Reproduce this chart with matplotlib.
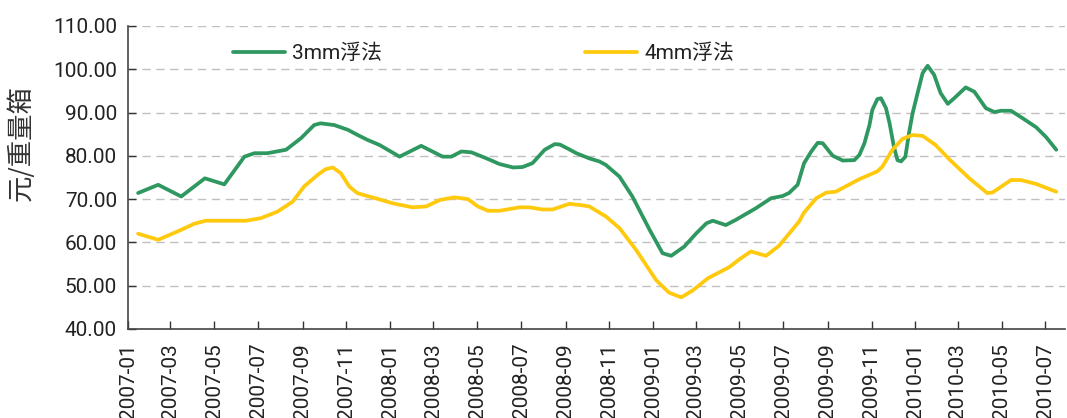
import matplotlib
matplotlib.use("Agg")
import matplotlib.pyplot as plt
import matplotlib.dates as mdates
import numpy as np
import pandas as pd

# ---- data ----
dates_3mm = ["2007-01-15", "2007-02-12", "2007-03-16", "2007-04-18", "2007-05-15", "2007-06-12",
             "2007-06-26", "2007-07-14", "2007-08-09", "2007-08-30", "2007-09-17", "2007-09-26",
             "2007-10-15", "2007-11-03", "2007-11-19", "2007-11-30", "2007-12-17", "2008-01-14",
             "2008-02-13", "2008-03-14", "2008-03-26", "2008-04-09", "2008-04-23", "2008-05-14",
             "2008-06-01", "2008-06-20", "2008-07-03", "2008-07-17", "2008-08-03", "2008-08-17",
             "2008-08-24", "2008-09-06", "2008-09-16", "2008-10-04", "2008-10-18", "2008-10-27",
             "2008-11-15", "2008-12-03", "2008-12-27", "2009-01-14", "2009-01-26", "2009-02-13",
             "2009-03-02", "2009-03-16", "2009-03-25", "2009-04-12", "2009-04-26", "2009-05-24",
             "2009-06-14", "2009-06-30", "2009-07-09", "2009-07-21", "2009-07-30", "2009-08-09",
             "2009-08-18", "2009-08-25", "2009-09-03", "2009-09-08", "2009-09-22", "2009-10-08",
             "2009-10-15", "2009-10-22", "2009-10-29", "2009-11-02", "2009-11-09", "2009-11-14",
             "2009-11-21", "2009-11-26", "2009-12-02", "2009-12-07", "2009-12-12", "2009-12-18",
             "2009-12-23", "2009-12-28", "2010-01-04", "2010-01-11", "2010-01-18", "2010-01-27",
             "2010-02-05", "2010-02-15", "2010-02-24", "2010-03-12", "2010-03-24", "2010-04-09",
             "2010-04-21", "2010-04-30", "2010-05-14", "2010-05-30", "2010-06-18", "2010-07-02",
             "2010-07-16"]
values_3mm = [71.4, 73.3, 70.6, 74.8, 73.4, 79.8,
              80.6, 80.6, 81.4, 84.1, 87.1, 87.5,
              87.1, 86.0, 84.6, 83.7, 82.5, 79.8,
              82.3, 79.8, 79.8, 81.0, 80.8, 79.4,
              78.1, 77.3, 77.4, 78.3, 81.4, 82.7,
              82.6, 81.5, 80.6, 79.4, 78.7, 77.9,
              75.2, 70.6, 62.9, 57.5, 56.9, 59.0,
              62.1, 64.4, 65.0, 64.0, 65.2, 67.9,
              70.2, 70.7, 71.4, 73.3, 78.3, 81.0,
              83.0, 82.9, 81.0, 80.0, 78.9, 79.0,
              80.2, 82.9, 87.1, 90.6, 93.1, 93.3,
              91.0, 87.5, 82.1, 79.0, 78.7, 79.8,
              85.2, 89.8, 94.5, 99.1, 100.8, 98.7,
              94.5, 92.0, 93.3, 95.8, 94.8, 91.0,
              90.1, 90.4, 90.4, 88.7, 86.6, 84.3,
              81.4]

dates_4mm = ["2007-01-15", "2007-02-12", "2007-03-16", "2007-04-03", "2007-04-19", "2007-06-14",
             "2007-07-05", "2007-07-28", "2007-08-18", "2007-09-03", "2007-09-22", "2007-10-03",
             "2007-10-13", "2007-10-24", "2007-11-05", "2007-11-16", "2007-11-30", "2007-12-07",
             "2008-01-05", "2008-02-01", "2008-02-20", "2008-03-10", "2008-03-30", "2008-04-18",
             "2008-05-02", "2008-05-16", "2008-06-01", "2008-06-29", "2008-07-13", "2008-07-31",
             "2008-08-14", "2008-09-06", "2008-09-23", "2008-10-04", "2008-10-18", "2008-10-27",
             "2008-11-15", "2008-12-08", "2009-01-05", "2009-01-23", "2009-02-09", "2009-02-25",
             "2009-03-18", "2009-04-17", "2009-05-01", "2009-05-17", "2009-06-07", "2009-06-25",
             "2009-07-23", "2009-07-30", "2009-08-16", "2009-08-30", "2009-09-12", "2009-10-15",
             "2009-11-09", "2009-11-16", "2009-11-30", "2009-12-14", "2009-12-28", "2010-01-11",
             "2010-01-29", "2010-02-17", "2010-03-17", "2010-04-11", "2010-04-18", "2010-05-14",
             "2010-05-28", "2010-06-18", "2010-07-16"]
values_4mm = [62.0, 60.6, 62.9, 64.3, 65.0, 65.0,
              65.6, 67.1, 69.4, 72.9, 75.6, 76.9,
              77.3, 76.0, 72.9, 71.4, 70.7, 70.4,
              69.0, 68.1, 68.3, 69.8, 70.4, 70.0,
              68.3, 67.3, 67.3, 68.1, 68.1, 67.6,
              67.6, 68.9, 68.6, 68.3, 66.9, 66.0,
              63.3, 58.3, 51.3, 48.4, 47.3, 48.9,
              51.7, 54.3, 56.1, 57.9, 56.9, 59.2,
              64.8, 66.9, 70.2, 71.5, 71.7, 74.6,
              76.4, 77.5, 81.4, 83.9, 84.8, 84.6,
              82.5, 79.2, 74.8, 71.4, 71.5, 74.4,
              74.4, 73.5, 71.7]

series_names = ["3mm浮法", "4mm浮法"]
y_label = "元/重量箱"
tick_months = pd.date_range("2007-01-01", "2010-07-01", freq="2MS")

# ---- style ----
plt.rcParams['font.family'] = ['Roboto', 'Noto Sans CJK SC', 'DejaVu Sans']
GREEN = "#2E9860"
YELLOW = "#FFC90E"
TXT = "#222222"

fig = plt.figure(figsize=(10.67, 4.18), dpi=100)
ax = fig.add_axes([0.12, 0.213, 0.878, 0.725])

ax.plot(pd.to_datetime(dates_3mm), values_3mm, color=GREEN, lw=2.7,
        label=series_names[0], solid_joinstyle='round', solid_capstyle='round')
ax.plot(pd.to_datetime(dates_4mm), values_4mm, color=YELLOW, lw=2.7,
        label=series_names[1], solid_joinstyle='round', solid_capstyle='round')

ax.set_ylim(40, 110)
ax.set_yticks(np.arange(40, 111, 10))
ax.yaxis.set_major_formatter(matplotlib.ticker.FormatStrFormatter('%.2f'))
ax.set_xlim(pd.Timestamp("2007-01-01"), pd.Timestamp("2010-07-28"))
ax.set_xticks(tick_months)
ax.xaxis.set_major_formatter(mdates.DateFormatter('%Y-%m'))

for lbl in ax.get_xticklabels():
    lbl.set_rotation(90)

ax.tick_params(axis='both', direction='in', length=6, width=1, colors='#333333',
               labelcolor=TXT, labelsize=15)
ax.tick_params(axis='y', pad=8)
ax.tick_params(axis='x', pad=10)

ax.grid(axis='y', color='#c0c0c0', linestyle=(0, (6, 4)), linewidth=1)
ax.set_axisbelow(True)
for s in ['top', 'right']:
    ax.spines[s].set_visible(False)
for s in ['left', 'bottom']:
    ax.spines[s].set_color('#444444')
    ax.spines[s].set_linewidth(1.2)

ax.set_ylabel(y_label, fontsize=19, color='#333333',
              family=['Noto Sans CJK SC', 'DejaVu Sans'])
ax.yaxis.set_label_coords(-0.0993, 0.612)

leg = ax.legend(loc='upper left', bbox_to_anchor=(0.0915, 1.004), ncol=2, frameon=False,
                fontsize=15, handlelength=2.5, columnspacing=9.75, handletextpad=0.35)
for t in leg.get_texts():
    t.set_color(TXT)

fig.savefig("out.png", dpi=100)
